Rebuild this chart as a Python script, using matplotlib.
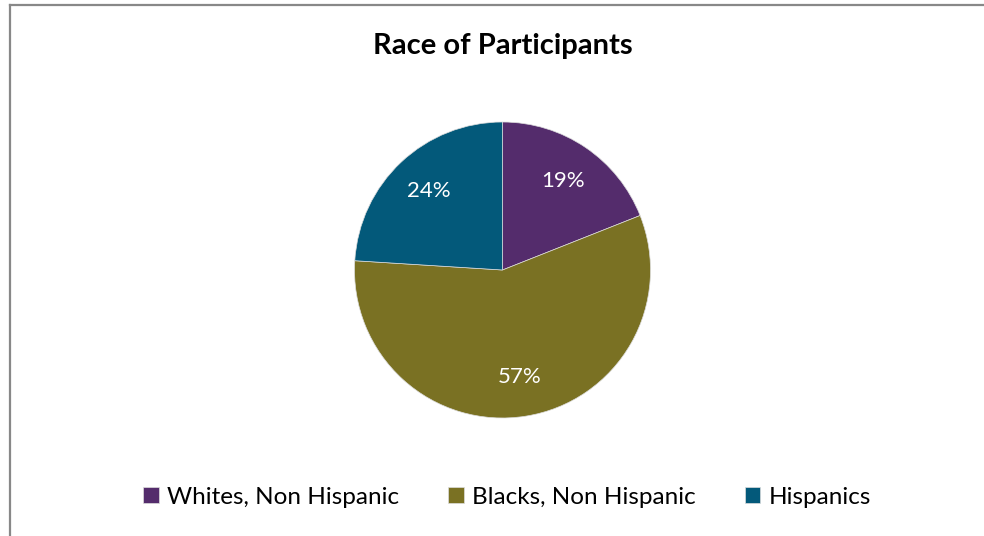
import matplotlib
matplotlib.use('Agg')
import matplotlib.pyplot as plt
from matplotlib.lines import Line2D

plt.rcParams['font.family'] = ['Lato', 'DejaVu Sans']

# Datos del gráfico
categorias = ['Whites, Non Hispanic', 'Blacks, Non Hispanic', 'Hispanics']
porcentajes = [19, 57, 24]
colores = ['#542C6C', '#7A7123', '#03597A']

W, H = 984, 536
fig = plt.figure(figsize=(W / 100, H / 100), dpi=100)

# Marco gris (solo borde superior e izquierdo visibles)
fig.add_artist(Line2D([10 / W, 10 / W], [0, 1 - 5 / H], color='#888888', lw=1.6))
fig.add_artist(Line2D([10 / W, 1], [1 - 5 / H, 1 - 5 / H], color='#888888', lw=1.6))

# Ejes del pastel: centro (502, 270), radio ~148 px
cx, cy, r = 502.5, 270, 148
ax = fig.add_axes([(cx - r) / W, (H - cy - r) / H, 2 * r / W, 2 * r / H])

wedges, textos, autotextos = ax.pie(
    porcentajes, colors=colores, startangle=90, counterclock=False,
    autopct='%1.0f%%', pctdistance=0.73,
    wedgeprops=dict(edgecolor='#dddddd', linewidth=0.5),
    textprops=dict(color='white', fontsize=16))
ax.set_xlim(-1, 1)
ax.set_ylim(-1, 1)
ax.set_aspect('equal')
ax.axis('off')

fig.text(cx / W, 1 - 46 / H, 'Race of Participants', ha='center', va='center',
         fontsize=21, fontweight='bold', color='black')

fig.legend(wedges, categorias, loc='center', bbox_to_anchor=(507 / W, 1 - 497 / H),
           ncol=3, frameon=False, fontsize=17.5, handlelength=0.65, handleheight=0.65,
           handletextpad=0.35, columnspacing=2.0)

fig.savefig('out.png', dpi=100)
